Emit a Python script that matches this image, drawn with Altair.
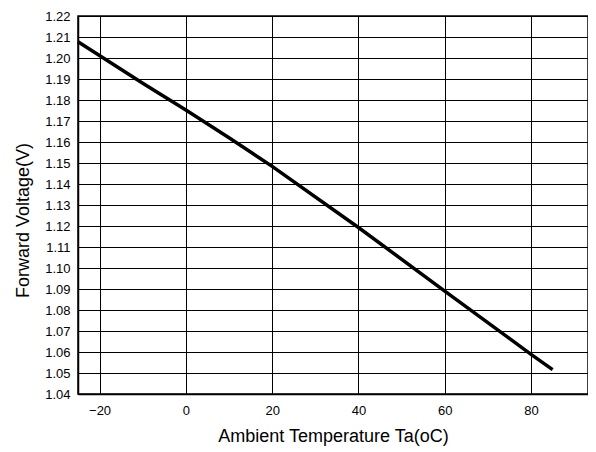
import altair as alt
import pandas as pd

temps = [-25, -10, 0, 10, 20, 40, 60, 80, 85]
volts = [1.2077, 1.1880, 1.1752, 1.1620, 1.1484, 1.1193, 1.0890, 1.0589, 1.0516]

x_ticks = [-20, 0, 20, 40, 60, 80]
y_ticks = [round(1.04 + 0.01 * i, 2) for i in range(19)]

df = pd.DataFrame({"t": temps, "v": volts})

chart = alt.Chart(df).mark_line(color="black", strokeWidth=3.5).encode(
    x=alt.X("t:Q", scale=alt.Scale(domain=[-25, 93.2], nice=False, zero=False),
            axis=alt.Axis(values=x_ticks, title="Ambient Temperature Ta(oC)",
                          labelPadding=10, titlePadding=10)),
    y=alt.Y("v:Q", scale=alt.Scale(domain=[1.04, 1.22], nice=False, zero=False),
            axis=alt.Axis(values=y_ticks, format=".2f", title="Forward Voltage(V)",
                          labelPadding=8, titlePadding=12, titleY=204)),
).properties(
    width=510, height=378,
    padding={"left": 6, "right": 0, "top": 2, "bottom": 5},
).configure_view(
    stroke="black", strokeWidth=1.5
).configure_axis(
    labelFont="Liberation Sans", titleFont="Liberation Sans",
    labelFontSize=13, titleFontSize=18, titleFontWeight="normal",
    labelColor="black", titleColor="black",
    domainColor="black", domainWidth=1.5,
    gridColor="black", gridOpacity=1, gridWidth=1,
    tickSize=0,
)

chart.save("out.html", embed_options={"renderer": "svg", "actions": False})
